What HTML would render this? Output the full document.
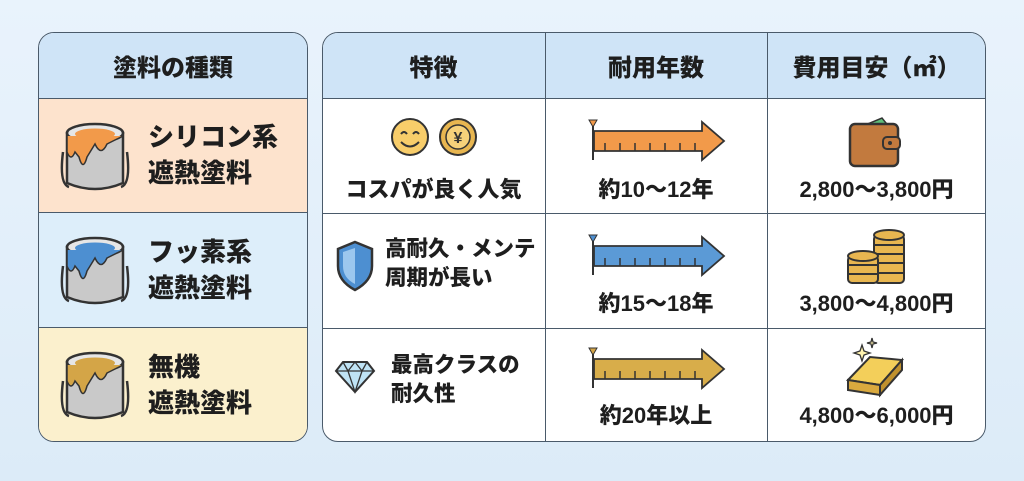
<!DOCTYPE html>
<html><head><meta charset="utf-8"><style>
*{margin:0;padding:0;box-sizing:border-box}
body{width:1024px;height:481px;overflow:hidden;background:linear-gradient(180deg,#e9f3fc,#dcebf8);font-family:"Liberation Sans","Noto Sans CJK JP",sans-serif;font-weight:900;color:#1e1e1e;position:relative}
.tbl{position:absolute;border:1.5px solid #4a5a6a;border-radius:16px;overflow:hidden;background:#fff}
.a{position:absolute}
.t{position:absolute;white-space:nowrap}
.hd{font-size:24px;text-align:center}
.c{font-size:22px;text-align:center}
.l{font-size:26px;line-height:36px}
</style></head><body>
<div class="tbl" style="left:38px;top:32px;width:270px;height:410px">
 <div class="a" style="left:0;top:0;width:270px;height:66px;background:#cfe4f7;border-bottom:1.5px solid #4a5a6a"></div>
 <div class="a" style="left:0;top:66px;width:270px;height:114px;background:#fde3cd;border-bottom:1.5px solid #4a5a6a"></div>
 <div class="a" style="left:0;top:180px;width:270px;height:115px;background:#ddeefa;border-bottom:1.5px solid #4a5a6a"></div>
 <div class="a" style="left:0;top:295px;width:270px;height:115px;background:#fbf0cd"></div>
</div>
<div class="tbl" style="left:322px;top:32px;width:664px;height:410px">
 <div class="a" style="left:0;top:0;width:664px;height:66px;background:#cfe4f7;border-bottom:1.5px solid #4a5a6a"></div>
 <div class="a" style="left:0;top:180px;width:664px;height:0;border-top:1.5px solid #4a5a6a"></div>
 <div class="a" style="left:0;top:295px;width:664px;height:0;border-top:1.5px solid #4a5a6a"></div>
 <div class="a" style="left:222px;top:0;width:0;height:410px;border-left:1.5px solid #4a5a6a"></div>
 <div class="a" style="left:444px;top:0;width:0;height:410px;border-left:1.5px solid #4a5a6a"></div>
</div>
<div class="t hd" style="left:38px;width:270px;top:48px">塗料の種類</div>
<div class="t hd" style="left:322px;width:223px;top:48px">特徴</div>
<div class="t hd" style="left:545px;width:222px;top:48px">耐用年数</div>
<div class="t hd" style="left:767px;width:219px;top:48px">費用目安（㎡）</div>

<div class="t l" style="left:148px;top:119px">シリコン系<br>遮熱塗料</div>
<div class="t l" style="left:148px;top:234px">フッ素系<br>遮熱塗料</div>
<div class="t l" style="left:148px;top:349px">無機<br>遮熱塗料</div>

<svg class="a" style="left:0;top:0" width="1024" height="481">
 <defs>
  <g id="can"><path d="M-28,-24 L-28,26 Q0,38 28,26 L28,-24Z" fill="#c9c9c9" stroke="#333" stroke-width="2.5"/>
  <path d="M-32,-5 Q-36,27 -26,30 M32,-5 Q36,27 26,30" fill="none" stroke="#333" stroke-width="2.5"/>
  <ellipse cx="0" cy="-24" rx="28" ry="9" fill="#e6e6e6" stroke="#333" stroke-width="2.5"/></g>
 </defs>
 <g transform="translate(95,157)"><use href="#can"/><ellipse cx="0" cy="-23" rx="20" ry="5.5" fill="#f29a4a"/><path d="M-28,-21 L-28,-5 Q-24,5 -20,-5 L-16,0 Q-12,15 -8,0 L0,-13 Q6,0 12,-13 L28,-21" fill="#f29a4a" stroke="#333" stroke-width="1.5"/></g>
 <g transform="translate(95,271)"><use href="#can"/><ellipse cx="0" cy="-23" rx="20" ry="5.5" fill="#4d8fd1"/><path d="M-28,-21 L-28,-5 Q-24,5 -20,-5 L-16,0 Q-12,15 -8,0 L0,-13 Q6,0 12,-13 L28,-21" fill="#4d8fd1" stroke="#333" stroke-width="1.5"/></g>
 <g transform="translate(95,386)"><use href="#can"/><ellipse cx="0" cy="-23" rx="20" ry="5.5" fill="#d4a547"/><path d="M-28,-21 L-28,-5 Q-24,5 -20,-5 L-16,0 Q-12,15 -8,0 L0,-13 Q6,0 12,-13 L28,-21" fill="#d4a547" stroke="#333" stroke-width="1.5"/></g>

 <circle cx="410" cy="137" r="18" fill="#f8cd6a" stroke="#333" stroke-width="2"/>
 <path d="M401,134 q3,-4 6,0 M413,134 q3,-4 6,0 M401,142 q9,9 18,0" fill="none" stroke="#333" stroke-width="2"/>
 <circle cx="458" cy="137" r="18" fill="#e8b650" stroke="#333" stroke-width="2"/>
 <circle cx="458" cy="137" r="12" fill="#f6d17a" stroke="#333" stroke-width="1.5"/>
 <text x="458" y="143" font-size="16" text-anchor="middle" fill="#333">¥</text>
 <path d="M355,242 L372,249 L372,266 Q372,281 355,290 Q338,281 338,266 L338,249Z" fill="#4d8fd1" stroke="#333" stroke-width="2.5"/>
 <path d="M355,248 L355,284 Q343,278 343,266 L343,252Z" fill="#9cc7ee"/>
 <path d="M336,371 L343,362 L367,362 L374,371 L355,392Z" fill="#bfe3f5" stroke="#333" stroke-width="2"/>
 <path d="M336,371 L374,371 M343,362 L348,371 L355,392 L362,371 L367,362 M348,371 L355,362 L362,371" fill="none" stroke="#333" stroke-width="1.3"/>

 <g><path d="M593,120 L593,160" stroke="#333" stroke-width="2"/><path d="M589,120 L597,120 L593,127Z" fill="#f29a4a" stroke="#333" stroke-width="1"/>
 <path d="M594,131 L702,131 L702,122 L724,141 L702,160 L702,151 L594,151Z" fill="#f29a4a" stroke="#333" stroke-width="1.8"/>
 <path d="M605,151v-8M620,151v-8M635,151v-8M650,151v-8M665,151v-8M680,151v-8M695,151v-8" stroke="#333" stroke-width="1.5"/></g>
 <g transform="translate(0,115)"><path d="M593,120 L593,160" stroke="#333" stroke-width="2"/><path d="M589,120 L597,120 L593,127Z" fill="#4d8fd1" stroke="#333" stroke-width="1"/>
 <path d="M594,131 L702,131 L702,122 L724,141 L702,160 L702,151 L594,151Z" fill="#5b9ad6" stroke="#333" stroke-width="1.8"/>
 <path d="M605,151v-8M620,151v-8M635,151v-8M650,151v-8M665,151v-8M680,151v-8M695,151v-8" stroke="#333" stroke-width="1.5"/></g>
 <g transform="translate(0,228)"><path d="M593,120 L593,160" stroke="#333" stroke-width="2"/><path d="M589,120 L597,120 L593,127Z" fill="#d4a547" stroke="#333" stroke-width="1"/>
 <path d="M594,131 L702,131 L702,122 L724,141 L702,160 L702,151 L594,151Z" fill="#d8ad4a" stroke="#333" stroke-width="1.8"/>
 <path d="M605,151v-8M620,151v-8M635,151v-8M650,151v-8M665,151v-8M680,151v-8M695,151v-8" stroke="#333" stroke-width="1.5"/></g>

 <path d="M858,128 L882,118 L890,128Z" fill="#5fbf7a" stroke="#333" stroke-width="1.5"/>
 <rect x="850" y="124" width="48" height="42" rx="5" fill="#c27a3e" stroke="#333" stroke-width="2.5"/>
 <rect x="883" y="137" width="17" height="12" rx="4" fill="#c27a3e" stroke="#333" stroke-width="2"/>
 <circle cx="890" cy="143" r="2" fill="#333"/>
 <g fill="#e8b650" stroke="#333" stroke-width="2">
 <rect x="874" y="235" width="30" height="48" rx="4"/>
 <ellipse cx="889" cy="235" rx="15" ry="5"/>
 <path d="M874,245h30M874,254h30M874,263h30M874,273h30" fill="none"/>
 <rect x="848" y="256" width="30" height="27" rx="4"/>
 <ellipse cx="863" cy="256" rx="15" ry="5"/>
 <path d="M848,265h30M848,274h30" fill="none"/>
 </g>
 <path d="M848,380 L870,357 L902,360 L880,385Z" fill="#f3cf5a" stroke="#333" stroke-width="2"/>
 <path d="M848,380 L880,385 L880,395 L848,390Z" fill="#d9a93e" stroke="#333" stroke-width="2"/>
 <path d="M880,385 L902,360 L902,370 L880,395Z" fill="#c0912d" stroke="#333" stroke-width="2"/>
 <path d="M862,345 l2,6 6,2 -6,2 -2,6 -2,-6 -6,-2 6,-2z M872,338 l1,4 4,1 -4,1 -1,4 -1,-4 -4,-1 4,-1z" fill="#fff3b0" stroke="#333" stroke-width="1.3"/>
</svg>

<div class="t c" style="left:322px;width:223px;top:172px">コスパが良く人気</div>
<div class="t c" style="left:545px;width:222px;top:172px">約10～12年</div>
<div class="t c" style="left:767px;width:219px;top:172px">2,800～3,800円</div>
<div class="t" style="left:385px;top:235px;font-size:21.5px;line-height:29px">高耐久・メンテ<br>周期が長い</div>
<div class="t c" style="left:545px;width:222px;top:286px">約15～18年</div>
<div class="t c" style="left:767px;width:219px;top:286px">3,800～4,800円</div>
<div class="t" style="left:391px;top:351px;font-size:21.5px;line-height:29px">最高クラスの<br>耐久性</div>
<div class="t c" style="left:545px;width:222px;top:398px">約20年以上</div>
<div class="t c" style="left:767px;width:219px;top:398px">4,800～6,000円</div>
</body></html>
